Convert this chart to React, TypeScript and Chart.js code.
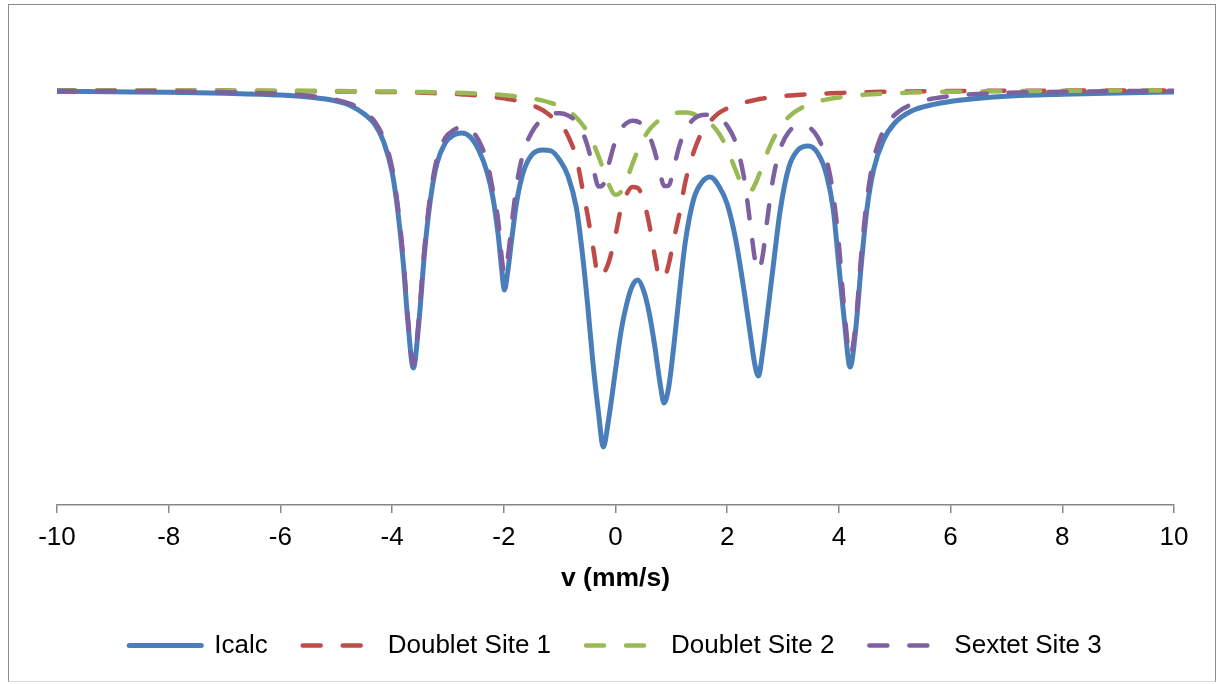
import React, { useEffect, useRef } from "react";
import { Chart, registerables } from "chart.js";

Chart.register(...registerables);

// Velocity axis (mm/s)
const velocity = [
  -10, -9, -8, -7, -6, -5.5, -5, -4.75, -4.5, -4.3,
  -4.15, -4.0, -3.9, -3.8, -3.72, -3.62, -3.52, -3.42, -3.32, -3.2,
  -3.05, -2.9, -2.75, -2.6, -2.45, -2.3, -2.2, -2.1, -2.04, -1.99,
  -1.93, -1.86, -1.77, -1.65, -1.5, -1.3, -1.15, -1.0, -0.85, -0.7,
  -0.6, -0.5, -0.4, -0.3, -0.22, -0.12, 0.0, 0.1, 0.2, 0.3,
  0.4, 0.5, 0.6, 0.7, 0.8, 0.87, 0.95, 1.05, 1.15, 1.25,
  1.4, 1.55, 1.7, 1.85, 2.0, 2.15, 2.3, 2.42, 2.5, 2.56,
  2.63, 2.72, 2.82, 2.95, 3.1, 3.25, 3.45, 3.62, 3.78, 3.9,
  4.0, 4.1, 4.2, 4.3, 4.4, 4.5, 4.62, 4.8, 5.0, 5.3,
  5.7, 6.2, 7, 8, 9, 10,
];

// Relative transmission (%)
const icalc = [
  99.93, 99.91, 99.89, 99.84, 99.75, 99.65, 99.45, 99.23, 98.8, 98.25,
  97.4, 95.9, 94.0, 91.35, 88.5, 86.1, 88.4, 91.85, 94.4, 96.3,
  97.35, 97.75, 97.85, 97.65, 97.0, 95.9, 94.7, 92.75, 91.1, 90.0,
  90.9, 92.5, 94.4, 95.9, 96.75, 97.0, 96.95, 96.5, 95.7, 94.1,
  92.0, 89.3, 86.25, 83.75, 82.15, 83.6, 86.0, 87.95, 89.3, 90.2,
  90.5, 90.0, 88.9, 87.25, 85.3, 84.35, 85.1, 87.35, 90.0, 92.4,
  94.55, 95.4, 95.65, 95.2, 94.3, 92.55, 90.0, 87.65, 86.2, 85.7,
  86.8, 88.8, 91.1, 94.0, 96.1, 96.95, 97.2, 96.85, 95.75, 94.0,
  91.2, 88.4, 86.15, 88.0, 91.25, 94.0, 96.0, 97.5, 98.35, 98.95,
  99.28, 99.5, 99.69, 99.79, 99.85, 99.9,
];

const doubletSite1 = [
  99.98, 99.98, 99.97, 99.97, 99.95, 99.94, 99.93, 99.93, 99.92, 99.91,
  99.9, 99.9, 99.89, 99.89, 99.88, 99.87, 99.87, 99.86, 99.85, 99.84,
  99.82, 99.81, 99.78, 99.76, 99.72, 99.69, 99.66, 99.62, 99.6, 99.58,
  99.55, 99.52, 99.47, 99.39, 99.25, 98.99, 98.68, 98.4, 97.7, 96.6,
  95.2, 93.75, 92.1, 90.65, 90.8, 91.4, 92.75, 94.1, 94.8, 95.15,
  95.1, 94.5, 93.35, 91.75, 90.55, 90.6, 91.25, 92.6, 93.9, 95.4,
  96.9, 97.9, 98.45, 98.85, 99.08, 99.25, 99.38, 99.45, 99.5, 99.54,
  99.57, 99.61, 99.64, 99.68, 99.72, 99.75, 99.79, 99.81, 99.83, 99.84,
  99.85, 99.86, 99.87, 99.88, 99.88, 99.89, 99.9, 99.91, 99.92, 99.93,
  99.94, 99.95, 99.96, 99.97, 99.98, 99.98,
];

const doubletSite2 = [
  99.99, 99.98, 99.98, 99.97, 99.96, 99.96, 99.95, 99.94, 99.94, 99.93,
  99.93, 99.92, 99.92, 99.92, 99.91, 99.91, 99.9, 99.9, 99.89, 99.89,
  99.88, 99.87, 99.85, 99.84, 99.82, 99.8, 99.78, 99.77, 99.75, 99.74,
  99.73, 99.71, 99.68, 99.64, 99.58, 99.47, 99.35, 99.19, 98.96, 98.62,
  98.3, 97.89, 97.34, 96.66, 96.04, 95.28, 94.76, 94.92, 95.51, 96.28,
  96.98, 97.56, 97.99, 98.3, 98.53, 98.65, 98.74, 98.83, 98.87, 98.87,
  98.8, 98.64, 98.34, 97.84, 97.06, 96.0, 95.06, 94.95, 95.29, 95.69,
  96.22, 96.89, 97.53, 98.16, 98.65, 98.98, 99.27, 99.42, 99.53, 99.59,
  99.63, 99.67, 99.7, 99.73, 99.75, 99.77, 99.79, 99.82, 99.84, 99.87,
  99.9, 99.92, 99.94, 99.96, 99.97, 99.98,
];

const sextetSite3 = [
  99.96, 99.95, 99.93, 99.89, 99.81, 99.71, 99.51, 99.31, 98.94, 98.37,
  97.57, 96.1, 94.25, 91.6, 88.7, 86.26, 88.6, 92.1, 94.65, 96.55,
  97.6, 97.99, 98.16, 98.02, 97.48, 96.4, 95.05, 93.45, 91.7, 90.81,
  91.6, 93.25, 95.25, 96.87, 97.88, 98.58, 98.79, 98.84, 98.73, 98.4,
  97.95, 97.2, 96.09, 95.17, 95.27, 96.3, 97.47, 98.05, 98.35, 98.46,
  98.42, 98.2, 97.74, 96.95, 95.83, 95.2, 95.21, 96.2, 97.27, 97.99,
  98.54, 98.75, 98.76, 98.6, 98.21, 97.38, 95.63, 93.16, 91.48, 90.97,
  91.63, 93.57, 95.54, 97.06, 97.89, 98.2, 98.14, 97.64, 96.5, 94.75,
  92.28, 88.91, 86.68, 88.3, 91.75, 94.49, 96.49, 97.99, 98.76, 99.28,
  99.58, 99.75, 99.86, 99.91, 99.94, 99.96,
];

const xTicks = [-10, -8, -6, -4, -2, 0, 2, 4, 6, 8, 10];
const seriesNames = ["Icalc", "Doublet Site 1", "Doublet Site 2", "Sextet Site 3"];
const seriesColors = ["#4A7EBB", "#BE4B48", "#98B954", "#7D60A0"];
const axisTitle = "v (mm/s)";

const FONT = "'Liberation Sans', Arial, Helvetica, sans-serif";

export default function App() {
  const canvasRef = useRef<HTMLCanvasElement | null>(null);

  useEffect(() => {
    if (!canvasRef.current) return;
    Chart.defaults.font.family = FONT;
    const pts = (ys: number[]) => velocity.map((x, i) => ({ x, y: ys[i] }));
    const dash = [18, 22];

    const chart = new Chart(canvasRef.current, {
      type: "line",
      data: {
        datasets: [
          {
            label: seriesNames[0],
            data: pts(icalc),
            borderColor: seriesColors[0],
            backgroundColor: seriesColors[0],
            borderWidth: 5,
            order: 4,
          },
          {
            label: seriesNames[1],
            data: pts(doubletSite1),
            borderColor: seriesColors[1],
            backgroundColor: seriesColors[1],
            borderWidth: 4.5,
            borderDash: dash,
            order: 3,
          },
          {
            label: seriesNames[2],
            data: pts(doubletSite2),
            borderColor: seriesColors[2],
            backgroundColor: seriesColors[2],
            borderWidth: 4.5,
            borderDash: dash,
            order: 2,
          },
          {
            label: seriesNames[3],
            data: pts(sextetSite3),
            borderColor: seriesColors[3],
            backgroundColor: seriesColors[3],
            borderWidth: 4.5,
            borderDash: dash,
            order: 1,
          },
        ],
      },
      options: {
        animation: false,
        responsive: true,
        maintainAspectRatio: false,
        layout: { padding: { left: 57, right: 43, top: 20, bottom: 15.5 } },
        elements: {
          point: { radius: 0, hoverRadius: 0 },
          line: {
            cubicInterpolationMode: "monotone",
            borderCapStyle: "round",
            borderJoinStyle: "round",
            fill: false,
          },
        },
        scales: {
          x: {
            type: "linear",
            min: -10,
            max: 10,
            afterBuildTicks: (scale: any) => {
              scale.ticks = xTicks.map((v) => ({ value: v }));
            },
            ticks: {
              font: { size: 26, family: FONT },
              color: "#000",
              padding: 9.2,
              maxRotation: 0,
              autoSkip: false,
              callback: (v: any) => String(v),
            },
            grid: {
              display: true,
              drawOnChartArea: false,
              drawTicks: true,
              tickLength: 8,
              color: "#868686",
              lineWidth: 1.5,
            },
            border: { display: true, color: "#868686", width: 1.5 },
            title: {
              display: true,
              text: axisTitle,
              font: { size: 26.5, weight: "bold", family: FONT },
              color: "#000",
              padding: { top: 0, bottom: 3.1 },
            },
          },
          y: { display: false, min: 79.25, max: 103.5 },
        },
        plugins: {
          legend: {
            position: "bottom",
            labels: {
              usePointStyle: true,
              pointStyle: "line",
              pointStyleWidth: 72,
              padding: 35,
              color: "#000",
              font: { size: 26, family: FONT },
              generateLabels: (c: any) =>
                c.data.datasets.map((ds: any, i: number) => ({
                  text: ds.label,
                  datasetIndex: i,
                  fillStyle: ds.borderColor,
                  strokeStyle: ds.borderColor,
                  lineWidth: ds.borderWidth,
                  lineDash: ds.borderDash || [],
                  lineDashOffset: 0,
                  lineCap: "round",
                  lineJoin: "round",
                  pointStyle: "line",
                  hidden: false,
                  fontColor: "#000",
                })),
            },
          },
          tooltip: { enabled: false },
        },
      },
    } as any);

    return () => chart.destroy();
  }, []);

  return (
    <div
      style={{
        position: "fixed",
        left: 0,
        top: 0,
        width: 1217,
        height: 684,
        background: "#fff",
      }}
    >
      <canvas ref={canvasRef} />
      <div
        style={{
          position: "absolute",
          left: 8,
          top: 4,
          width: 1208,
          height: 678,
          boxSizing: "border-box",
          borderTop: "1px solid #8e8e8e",
          borderLeft: "1px solid #8e8e8e",
          borderRight: "1px solid #8e8e8e",
          borderBottom: "1px solid #d9d9d9",
          pointerEvents: "none",
        }}
      />
    </div>
  );
}
